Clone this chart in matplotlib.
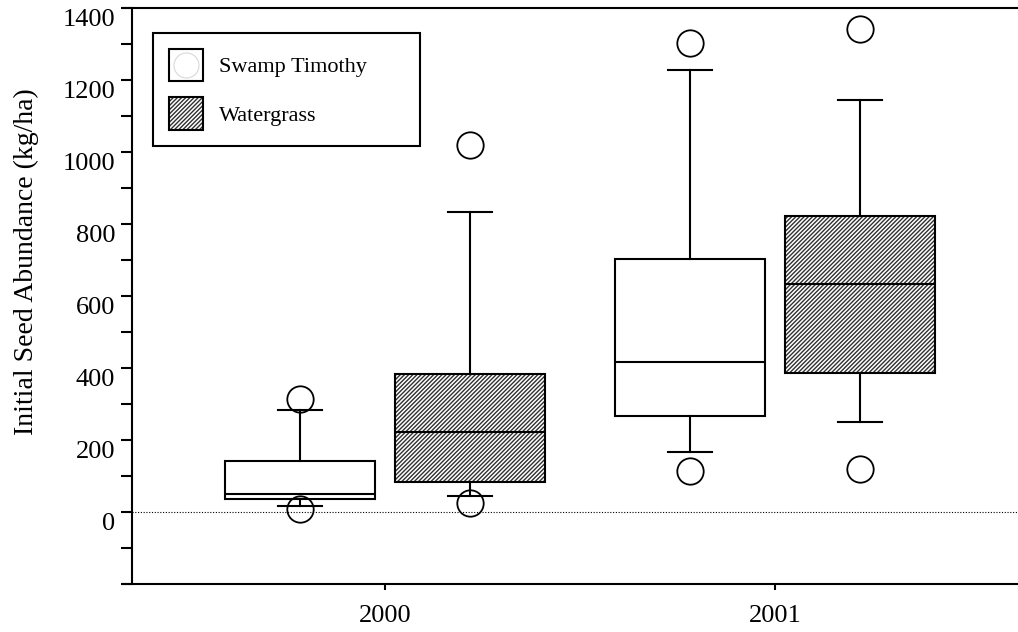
import matplotlib
matplotlib.use("Agg")
import matplotlib.pyplot as plt
import matplotlib.colors as mcolors
from matplotlib.patches import Patch
from matplotlib.lines import Line2D
from matplotlib.ticker import FixedLocator, MultipleLocator
from matplotlib.transforms import ScaledTranslation

plt.rcParams['font.family'] = ['Liberation Serif', 'DejaVu Serif']
plt.rcParams['hatch.linewidth'] = 1.0

# data (kg/ha)
years = ['2000', '2001']
series = ['Swamp Timothy', 'Watergrass']
q1 = {'Swamp Timothy': [35, 268], 'Watergrass': [84, 385]}
med = {'Swamp Timothy': [50, 418], 'Watergrass': [223, 634]}
q3 = {'Swamp Timothy': [141, 702], 'Watergrass': [383, 822]}
whislo = {'Swamp Timothy': [17, 167], 'Watergrass': [44, 250]}
whishi = {'Swamp Timothy': [283, 1228], 'Watergrass': [833, 1144]}
fliers = {'Swamp Timothy': [[314, 8], [1304, 115]],
          'Watergrass': [[1019, 25], [1341, 119]]}
yticks = [0, 200, 400, 600, 800, 1000, 1200, 1400]

W, H = 1018, 632
fig = plt.figure(figsize=(W / 100, H / 100), dpi=100)
ax = fig.add_axes([123 / W, 1 - 584 / H, (W - 123) / W, (584 - 8) / H])

offsets = {'Swamp Timothy': -0.218, 'Watergrass': 0.218}
hatches = {'Swamp Timothy': None, 'Watergrass': '////////'}
hatch_col = mcolors.to_rgba('#303030')

for s in series:
    stats = []
    for i, y in enumerate(years):
        stats.append(dict(q1=q1[s][i], med=med[s][i], q3=q3[s][i],
                          whislo=whislo[s][i], whishi=whishi[s][i],
                          fliers=fliers[s][i], label=y))
    pos = [i + offsets[s] for i in range(len(years))]
    bp = ax.bxp(stats, positions=pos, widths=0.385, capwidths=0.113,
                patch_artist=True, manage_ticks=False,
                boxprops=dict(facecolor='white', edgecolor='black', linewidth=1.5),
                medianprops=dict(color='black', linewidth=1.5),
                whiskerprops=dict(color='black', linewidth=1.5),
                capprops=dict(color='black', linewidth=1.5),
                flierprops=dict(marker='o', markersize=19, markerfacecolor='none',
                                markeredgecolor='black', markeredgewidth=1.3))
    for b in bp['boxes']:
        if hatches[s]:
            b.set_hatch(hatches[s])
            b._hatch_color = hatch_col

x_left = -0.649
ax.set_xlim(-262 / 390, 633 / 390)
ax.set_ylim(-200, 1400)
ax.hlines(0, x_left, 633 / 390, colors='black', linestyles=(0, (1, 1.5)), linewidth=0.8, zorder=1)

# axes styling
for side in ['top', 'bottom', 'left']:
    ax.spines[side].set_linewidth(1.5)
ax.spines['right'].set_visible(False)
ax.spines['left'].set_position(('axes', 9 / 895))

ax.yaxis.set_major_locator(FixedLocator(yticks))
ax.yaxis.set_minor_locator(MultipleLocator(100))
ax.tick_params(axis='y', which='both', direction='out', length=8, width=1.5,
               labelsize=19, pad=4)
ax.set_xticks(range(len(years)))
ax.set_xticklabels(years)
ax.tick_params(axis='x', direction='out', length=4, width=1.5, labelsize=19, pad=11)

# y tick labels sit a bit below their ticks in the reference
shift = ScaledTranslation(0, -9 / 100, fig.dpi_scale_trans)
for lab in ax.get_yticklabels():
    lab.set_transform(lab.get_transform() + shift)

fig.text(26 / W, 1 - 262 / H, 'Initial Seed Abundance (kg/ha)', rotation=90,
         ha='center', va='center', fontsize=20)

# legend
st_patch = Patch(facecolor='white', edgecolor='black', linewidth=1.5)
wg_patch = Patch(facecolor='white', edgecolor='black', linewidth=1.5, hatch='////////')
wg_patch._hatch_color = hatch_col
leg = ax.legend([st_patch, wg_patch], series,
                loc='upper left', mode='expand',
                bbox_to_anchor=(153 / W, 1 - 145 / H, 267 / W, 112 / H),
                bbox_transform=fig.transFigure, borderaxespad=0,
                fontsize=16, handlelength=1.55, handleheight=1.9,
                handletextpad=0.7, labelspacing=0.72, borderpad=0.7,
                fancybox=False, edgecolor='black', framealpha=1)
leg.get_frame().set_linewidth(1.5)

# faint circle ghost inside the Swamp Timothy legend swatch
fig.canvas.draw()
sw = leg.legend_handles[0].get_window_extent(fig.canvas.get_renderer())
cx, cy = fig.transFigure.inverted().transform(((sw.x0 + sw.x1) / 2, (sw.y0 + sw.y1) / 2))
fig.add_artist(Line2D([cx], [cy], transform=fig.transFigure, marker='o', markersize=18,
                      markerfacecolor='none', markeredgecolor='#d8d8d8',
                      markeredgewidth=0.8, linestyle='none', zorder=10))

fig.savefig('out.png', dpi=100)
